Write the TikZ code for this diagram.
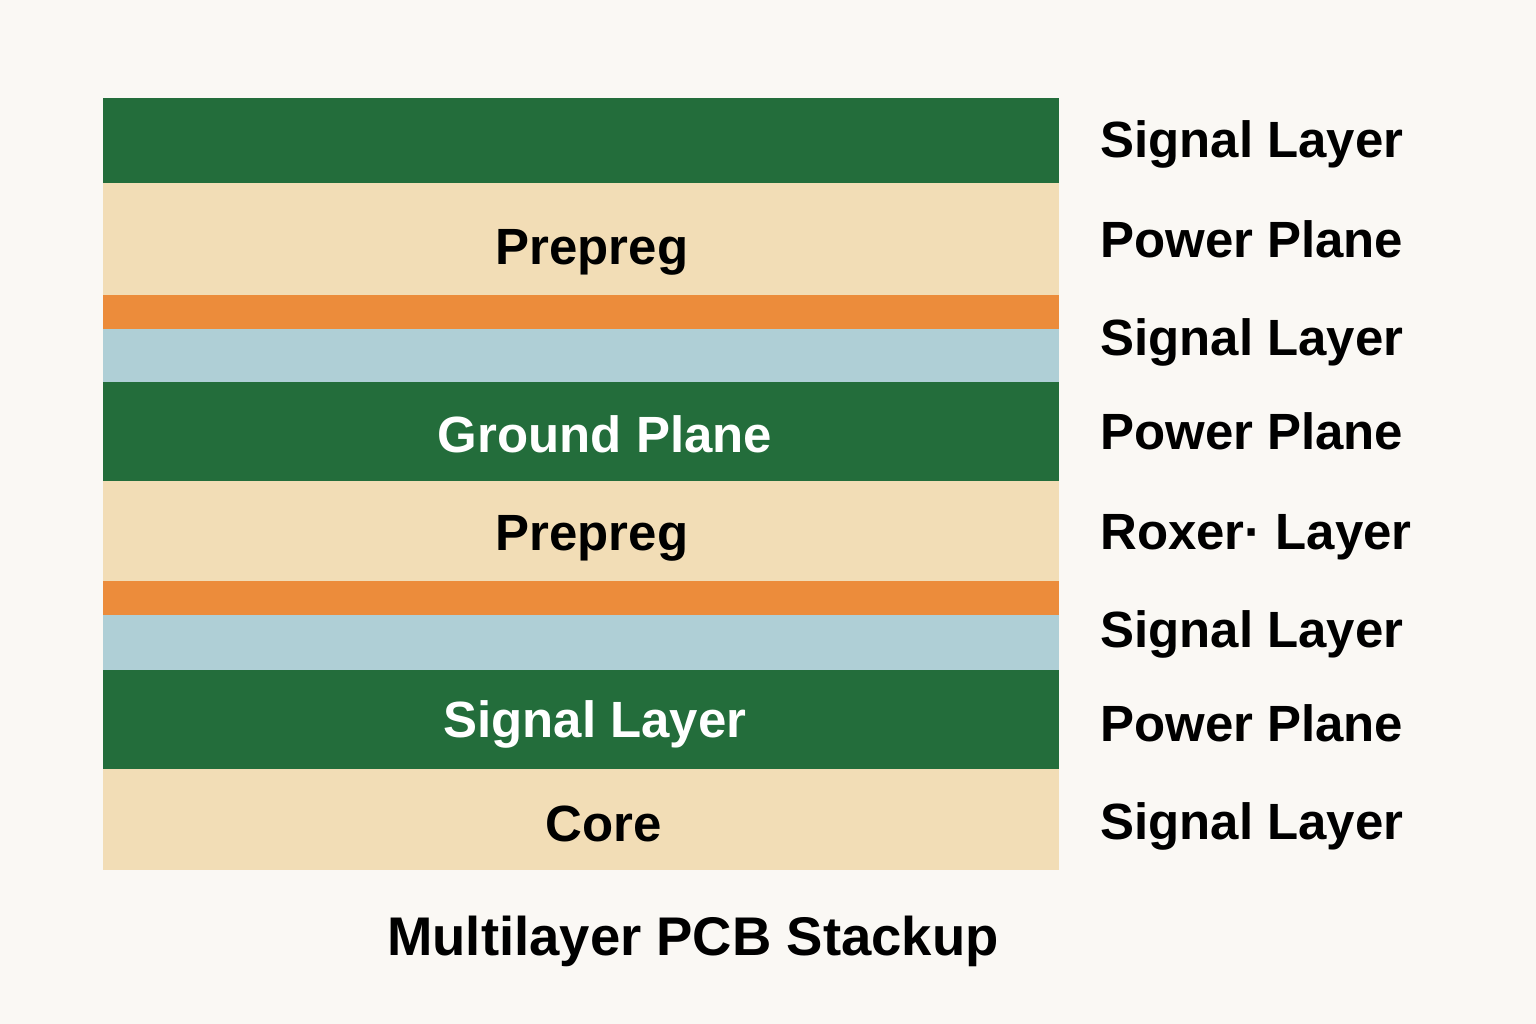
\documentclass[tikz,border=0pt]{standalone}
\usepackage{fontspec}
\setmainfont{Liberation Sans}
\usepackage{xcolor}
\usetikzlibrary{positioning}

\definecolor{paper}{HTML}{FAF8F4}
\definecolor{pcbgreen}{HTML}{236D3B}
\definecolor{prepreg}{HTML}{F2DDB6}
\definecolor{copper}{HTML}{EC8C3B}
\definecolor{dielec}{HTML}{AFCFD6}

\begin{document}
\begin{tikzpicture}[
  x=0.02cm,y=-0.02cm,
  inlabel/.style={anchor=base,font=\fontsize{29}{32}\selectfont\bfseries,inner sep=0pt},
  sidelabel/.style={anchor=base west,font=\fontsize{29}{32}\selectfont\bfseries,inner sep=0pt},
  every node/.style={text=black}
]
  \useasboundingbox (0,0) rectangle (1536,1024);
  \fill[paper] (0,0) rectangle (1536,1024);

  % layers, top to bottom
  \foreach \ya/\yb/\col in {98/183/pcbgreen,183/295/prepreg,295/329/copper,
    329/382/dielec,382/481/pcbgreen,481/581/prepreg,581/615/copper,
    615/670/dielec,670/769/pcbgreen,769/870/prepreg}
    \fill[\col] (103,\ya) rectangle (1059,\yb);

  \node[inlabel] (prepregA) at (592,264) {Prepreg};
  \node[inlabel,text=white] (ground) at (605,452) {Ground Plane};
  \node[inlabel] (prepregB) at (592,550) {Prepreg};
  \node[inlabel,text=white] (signal) at (595,737) {Signal Layer};
  \node[inlabel] (core) at (604,841) {Core};

  % labels on the right
  \foreach \y/\t [count=\i] in {157/Signal Layer,257/Power Plane,355/Signal Layer,
    449/Power Plane,549/Roxer· Layer,647/Signal Layer,741/Power Plane,839/Signal Layer}
    \node[sidelabel] (side\i) at (1100,\y) {\t};

  \node[inlabel,font=\fontsize{31}{34}\selectfont\bfseries] (title) at (693,955) {Multilayer PCB Stackup};
\end{tikzpicture}
\end{document}
